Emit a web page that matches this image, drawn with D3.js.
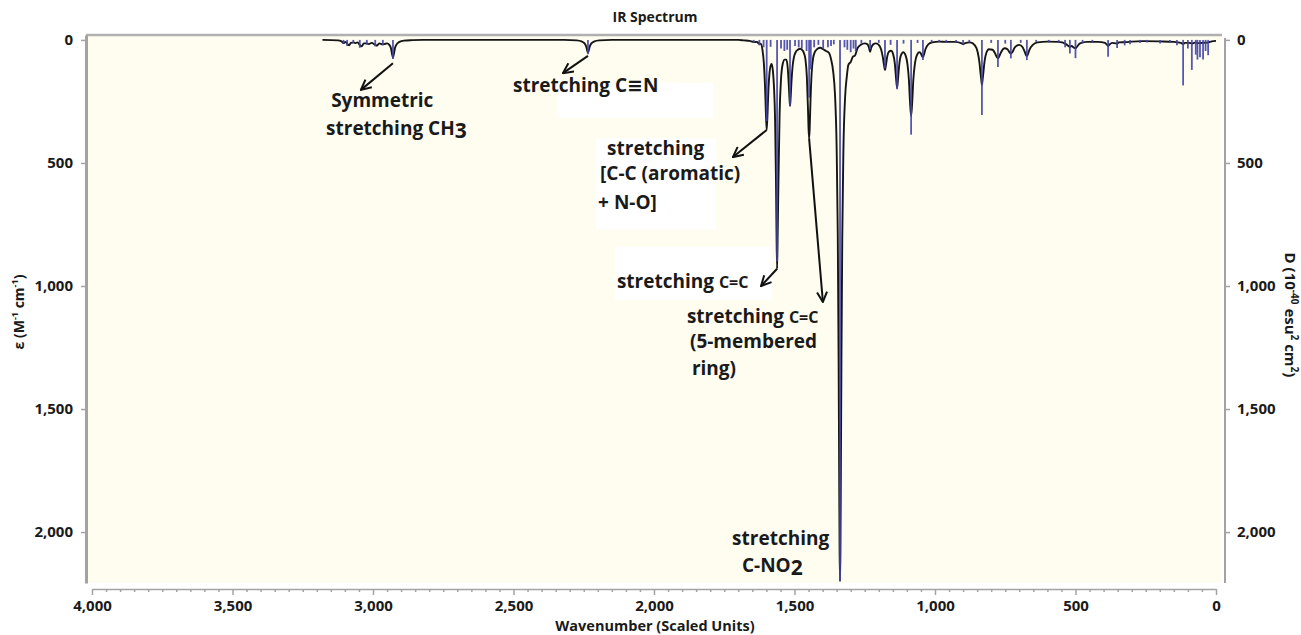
<!DOCTYPE html>
<html>
<head>
<meta charset="utf-8">
<script src="https://cdn.jsdelivr.net/npm/d3@7"></script>
<style>
  body { margin: 0; background: #fff; }
  svg text { font-family: "Open Sans", "DejaVu Sans", sans-serif; font-weight: bold; fill: #1a1a1a; }
  .axis .domain { stroke: #a3a3a3; }
  .axis line { stroke: #a3a3a3; stroke-width: 1.5; }
  .axis text { font-size: 15px; }
</style>
</head>
<body>
<svg id="chart" width="1301" height="635"></svg>
<script>
// tick values
var xTicks = [4000, 3500, 3000, 2500, 2000, 1500, 1000, 500, 0];
var yTicks = [0, 500, 1000, 1500, 2000];

// blue stick spectrum (wavenumber, dipole strength)
var stickWavenumber = [3105, 3092, 3070, 3047, 3022, 2992, 2965, 2929, 2235,
  1645, 1625, 1610, 1599, 1585, 1562, 1548, 1536, 1526, 1516,
  1498, 1485, 1474, 1457, 1448, 1442, 1430, 1415, 1398, 1381,
  1370, 1360, 1338, 1322, 1312, 1300, 1290, 1282, 1262, 1231,
  1200, 1178, 1158, 1135, 1112, 1085, 1062, 1043, 1012, 985,
  960, 925, 900, 878, 833, 800, 776, 750, 730, 695,
  673, 640, 595, 560, 537, 520, 500, 475, 440, 384,
  352, 325, 306, 270, 246, 199, 164, 139, 117, 100,
  86, 72, 66, 57, 46, 37, 28];
var stickIntensity = [15, 25, 14, 32, 20, 26, 22, 78, 58,
  12, 22, 30, 330, 28, 900, 35, 45, 40, 265,
  25, 30, 35, 45, 235, 120, 30, 20, 35, 30,
  25, 18, 2200, 30, 40, 50, 35, 45, 15, 38,
  12, 115, 20, 200, 15, 385, 12, 82, 10, 8,
  12, 10, 20, 10, 305, 12, 110, 15, 75, 12,
  82, 8, 10, 12, 30, 55, 74, 15, 10, 68,
  33, 22, 18, 12, 10, 15, 12, 22, 185, 35,
  122, 60, 80, 70, 80, 45, 62];

// black broadened spectrum, [wavenumber, epsilon]
var curveCH = [[3180,0],[3125,2],[3112,6],[3105,13],[3098,8],[3090,18],[3085,22],[3079,12],
  [3068,10],[3062,13],[3055,10],[3046,22],[3040,26],[3033,14],[3022,14],[3015,17],[3005,12],
  [2992,20],[2986,23],[2978,14],[2966,18],[2960,17],[2950,14],[2942,20],[2936,34],[2932,58],
  [2929,72],[2926,58],[2922,34],[2916,18],[2906,8],[2890,3],[2860,1],[2820,0]];
var curveCN = [[2320,0],[2275,2],[2258,6],[2247,14],[2241,28],[2238,42],[2235,52],[2232,42],
  [2229,28],[2223,14],[2212,6],[2195,2],[2150,0],[1700,0]];
var curveMid = [[1680,2],[1660,4],[1648,8],[1642,9],[1634,8],[1626,15],[1620,16],[1614,40],
  [1609,95],[1605,185],[1602,290],[1599,366],[1596,300],[1593,205],[1589,135],[1585,105],
  [1581,98],[1577,125],[1573,190],[1569,330],[1566,560],[1564,780],[1562,930],[1560,800],
  [1557,560],[1553,300],[1548,160],[1542,98],[1535,80],[1529,80],[1524,115],[1521,170],
  [1518,235],[1516,268],[1514,240],[1511,175],[1507,110],[1502,70],[1496,50],[1488,40],
  [1480,36],[1472,42],[1466,55],[1461,80],[1456,150],[1452,280],[1450,360],[1448,400],
  [1446,360],[1443,245],[1439,135],[1434,75],[1427,48],[1418,36],[1408,32],[1398,38],
  [1388,45],[1378,52],[1370,78],[1362,132],[1356,220],[1350,440],[1346,790],[1343,1300],
  [1341,1760],[1339.5,2070],[1338,2200],[1336.5,2070],[1335,1760],[1333,1300],[1330,800],
  [1326,450],[1320,235],[1314,150],[1308,100],[1300,90],[1292,68],[1285,64],[1276,34],
  [1264,20],[1250,14]];
var curveLow = [[1240,18],[1235,32],[1231,48],[1227,32],[1220,18],[1210,14],[1200,20],
  [1192,38],[1186,68],[1182,98],[1178,122],[1174,98],[1170,68],[1164,48],[1156,44],[1149,58],
  [1143,95],[1139,150],[1135,195],[1131,150],[1127,98],[1121,62],[1113,50],[1105,62],[1098,98],
  [1093,160],[1089,250],[1085,310],[1081,250],[1077,160],[1071,92],[1063,58],[1055,50],
  [1049,58],[1046,66],[1043,70],[1040,62],[1034,38],[1024,18],[1010,10],[985,7],[960,8],
  [930,8],[905,14],[900,18],[895,14],[875,10],[858,22],[848,50],[842,90],[838,135],[835,165],
  [833,183],[831,165],[828,135],[824,90],[818,55],[808,38],[795,40],[786,55],[780,70],[776,75],
  [772,68],[765,50],[752,34],[742,38],[735,50],[730,55],[725,50],[716,30],[700,20],[688,30],
  [680,50],[676,62],[673,65],[670,60],[664,40],[652,20],[635,10],[600,7],[560,8],[535,16],
  [524,26],[520,28],[514,25],[505,32],[500,34],[495,28],[484,14],[460,8],[420,8],[395,12],
  [388,20],[384,24],[380,20],[370,12],[356,14],[352,15],[346,10],[320,9],[300,7],[260,5],
  [200,6],[150,8],[125,12],[117,16],[110,12],[95,12],[86,15],[75,11],[62,13],[48,12],[30,11],
  [15,6],[0,4]];

// peak labels: text anchors and arrows in data units
var annotations = [
  { lines: [{ at: [3149, 273], parts: [["Symmetric"]] },
            { at: [3167, 386], parts: [["stretching CH"], ["3", 21, 3]] }],
    arrow: [[2929, 95], [3043, 203]] },
  { lines: [{ at: [2502, 211], parts: [["stretching C\u2261N"]] }],
    arrow: [[2235, 65], [2324, 135]] },
  { lines: [{ at: [2167, 468], parts: [["stretching"]] },
            { at: [2192, 569], parts: [["[C-C (aromatic)"]] },
            { at: [2199, 687], parts: [["+ N-O]"]] }],
    arrow: [[1599, 366], [1719, 476]] },
  { lines: [{ at: [2132, 1008], parts: [["stretching "], ["C=C", 16]] }],
    arrow: [[1562, 930], [1619, 1000]] },
  { lines: [{ at: [1883, 1150], parts: [["stretching "], ["C=C", 16]] },
            { at: [1872, 1250], parts: [["(5-membered"]] },
            { at: [1865, 1362], parts: [["ring)"]] }],
    arrow: [[1448, 400], [1399, 1065]] },
  { lines: [{ at: [1722, 2052], parts: [["stretching"]] },
            { at: [1687, 2162], parts: [["C-NO"], ["2", 21, 3]] }],
    arrow: null }
];

// white patches behind some labels [w1, v1, w2, v2]
var labelPatches = [[2345, 175, 1790, 317], [2206, 400, 1779, 770], [2139, 840, 1580, 1057]];

var svg = d3.select('#chart');

var xScale = d3.scaleLinear().domain([4000, 0]).range([92, 1216]),
    yScale = d3.scaleLinear().domain([-20, 2207]).range([35, 583]);

var plotLeft = 86, plotRight = 1221, plotTop = 35, plotBottom = 583;

svg.append('rect')
    .attr('x', plotLeft).attr('y', plotTop)
    .attr('width', plotRight - plotLeft).attr('height', plotBottom - plotTop)
    .attr('fill', '#fefdf0');

svg.append('line')
    .attr('x1', plotLeft).attr('x2', plotRight + 1)
    .attr('y1', plotTop).attr('y2', plotTop)
    .attr('stroke', '#b0b0b0').attr('stroke-width', 2.5);

svg.append('g').selectAll('rect')
    .data(labelPatches)
  .enter().append('rect')
    .attr('x', function(d) { return xScale(d[0]); })
    .attr('y', function(d) { return yScale(d[1]); })
    .attr('width', function(d) { return xScale(d[2]) - xScale(d[0]); })
    .attr('height', function(d) { return yScale(d[3]) - yScale(d[1]); })
    .attr('fill', '#ffffff');

// axes
var xAxis = svg.append('g')
    .attr('class', 'axis')
    .attr('transform', 'translate(0,589)')
    .call(d3.axisBottom(xScale).tickValues(xTicks).tickFormat(d3.format(',')).tickSize(6).tickSizeOuter(0).tickPadding(5));
xAxis.select('.domain').attr('stroke-width', 1.5);

var minorTicks = d3.range(50, 4000, 50).filter(function(d) { return d % 500 !== 0; });
svg.append('g')
    .attr('class', 'axis')
    .attr('transform', 'translate(0,589)')
    .call(d3.axisBottom(xScale).tickValues(minorTicks).tickFormat('').tickSize(3).tickSizeOuter(0))
    .select('.domain').remove();

var leftAxis = svg.append('g')
    .attr('class', 'axis')
    .attr('transform', 'translate(' + plotLeft + ',0)')
    .call(d3.axisLeft(yScale).tickValues(yTicks).tickFormat(d3.format(',')).tickSize(5).tickSizeOuter(0).tickPadding(8));
leftAxis.select('.domain').attr('stroke-width', 3);

var rightAxis = svg.append('g')
    .attr('class', 'axis')
    .attr('transform', 'translate(1225,0)')
    .call(d3.axisRight(yScale).tickValues(yTicks).tickFormat(d3.format(',')).tickSize(5).tickSizeOuter(0).tickPadding(7));
rightAxis.select('.domain').attr('stroke-width', 2).attr('d', 'M0,38V583');

// broadened spectrum
var curveData = curveCH.concat(curveCN, curveMid, curveLow)
    .sort(function(a, b) { return b[0] - a[0]; });

var line = d3.line()
    .x(function(d) { return xScale(d[0]); })
    .y(function(d) { return yScale(d[1]); })
    .curve(d3.curveMonotoneX);

svg.append('path')
    .datum(curveData)
    .attr('d', line)
    .attr('fill', 'none')
    .attr('stroke', '#151515')
    .attr('stroke-width', 1.9)
    .attr('stroke-linejoin', 'round');

// sticks
svg.append('g').selectAll('line')
    .data(stickWavenumber)
  .enter().append('line')
    .attr('x1', function(d) { return xScale(d); })
    .attr('x2', function(d) { return xScale(d); })
    .attr('y1', yScale(0))
    .attr('y2', function(d, i) { return yScale(stickIntensity[i]); })
    .attr('stroke', '#4444aa')
    .attr('stroke-width', 1.8)
    .attr('opacity', 0.9);

// titles
svg.append('text')
    .attr('x', 655).attr('y', 22)
    .attr('text-anchor', 'middle')
    .style('font-size', '14px')
    .text('IR Spectrum');

svg.append('text')
    .attr('x', 655).attr('y', 631)
    .attr('text-anchor', 'middle')
    .style('font-size', '14.5px')
    .text('Wavenumber (Scaled Units)');

function addParts(textSel, parts) {
  parts.forEach(function(p) {
    var t = textSel.append('tspan').text(p[0]);
    if (p[1]) t.style('font-size', p[1] + 'px');
    if (p[2]) t.attr('dy', p[2]);
  });
}

var leftTitle = svg.append('text')
    .attr('transform', 'translate(24,312) rotate(-90)')
    .attr('text-anchor', 'middle')
    .style('font-size', '14px');
leftTitle.append('tspan').text('\u03b5 (M');
leftTitle.append('tspan').text('-1').style('font-size', '9px').attr('dy', -6);
leftTitle.append('tspan').text(' cm').attr('dy', 6);
leftTitle.append('tspan').text('-1').style('font-size', '9px').attr('dy', -6);
leftTitle.append('tspan').text(')').attr('dy', 6);

var rightTitle = svg.append('text')
    .attr('transform', 'translate(1285,315) rotate(90)')
    .attr('text-anchor', 'middle')
    .style('font-size', '15px');
rightTitle.append('tspan').text('D (10');
rightTitle.append('tspan').text('-40').style('font-size', '10px').attr('dy', -6);
rightTitle.append('tspan').text(' esu').attr('dy', 6);
rightTitle.append('tspan').text('2').style('font-size', '10px').attr('dy', -6);
rightTitle.append('tspan').text(' cm').attr('dy', 6);
rightTitle.append('tspan').text('2').style('font-size', '10px').attr('dy', -6);
rightTitle.append('tspan').text(')').attr('dy', 6);

// annotations
svg.append('defs').append('marker')
    .attr('id', 'head')
    .attr('viewBox', '0 0 12 12')
    .attr('refX', 11).attr('refY', 6)
    .attr('markerWidth', 12).attr('markerHeight', 12)
    .attr('markerUnits', 'userSpaceOnUse')
    .attr('orient', 'auto')
  .append('path')
    .attr('d', 'M1,1 L11,6 L1,11')
    .attr('fill', 'none')
    .attr('stroke', '#111')
    .attr('stroke-width', 2);

annotations.forEach(function(a) {
  a.lines.forEach(function(l) {
    var t = svg.append('text')
        .attr('x', xScale(l.at[0]))
        .attr('y', yScale(l.at[1]))
        .style('font-size', '19px');
    addParts(t, l.parts);
  });
  if (a.arrow) {
    svg.append('line')
        .attr('x1', xScale(a.arrow[0][0])).attr('y1', yScale(a.arrow[0][1]))
        .attr('x2', xScale(a.arrow[1][0])).attr('y2', yScale(a.arrow[1][1]))
        .attr('stroke', '#111')
        .attr('stroke-width', 2)
        .attr('marker-end', 'url(#head)');
  }
});
</script>
</body>
</html>
